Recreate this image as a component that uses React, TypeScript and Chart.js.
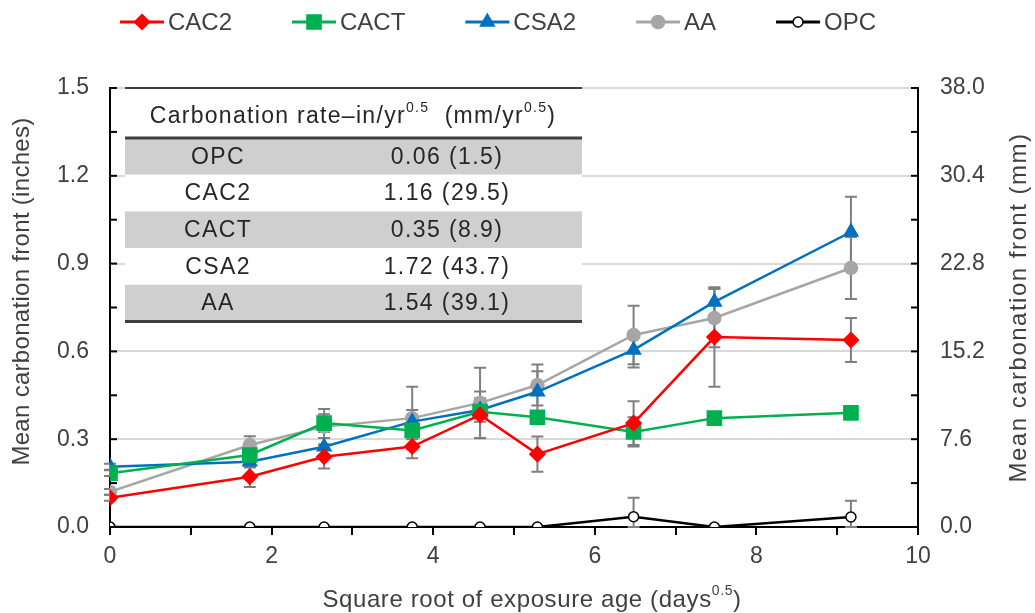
import React, { useEffect, useRef } from 'react';
import { Chart, registerables } from 'chart.js';
import { drawPoint } from 'chart.js/helpers';

Chart.register(...registerables);

// ---------- data ----------
const xValues = [0, 1.73, 2.65, 3.74, 4.58, 5.29, 6.48, 7.48, 9.17];

const cac2 = [0.1, 0.172, 0.24, 0.275, 0.383, 0.249, 0.355, 0.649, 0.639];
const cact = [0.184, 0.246, 0.355, 0.33, 0.394, 0.375, 0.325, 0.372, 0.39];
const csa2 = [0.206, 0.223, 0.274, 0.36, 0.4, 0.462, 0.605, 0.769, 1.008];
const aa = [0.12, 0.28, 0.343, 0.372, 0.424, 0.485, 0.656, 0.714, 0.885];
const opc = [0, 0, 0, 0, 0, 0, 0.035, 0, 0.034];

const cac2Err = [0.01, 0.035, 0.04, 0.04, 0.08, 0.06, 0.075, 0.17, 0.075];
const cactErr = [0.01, 0.02, 0.03, 0.03, 0.02, 0.02, 0.05, 0.02, 0.02];
const csa2Err = [0.01, 0.02, 0.03, 0.04, 0.04, 0.07, 0.06, 0.045, 0.12];
const aaErr = [0.01, 0.03, 0.06, 0.107, 0.12, 0.07, 0.1, 0.1, 0.106];
const opcErr = [0, 0, 0, 0, 0, 0, 0.065, 0, 0.056];

const leftMax = 1.5;
const leftStep = 0.3;
const rightMax = 38;
const rightStep = 7.6;

const tableMixes = ['OPC', 'CAC2', 'CACT', 'CSA2', 'AA'];
const tableRateIn = ['0.06', '1.16', '0.35', '1.72', '1.54'];
const tableRateMm = ['1.5', '29.5', '8.9', '43.7', '39.1'];

const FONT = "'Liberation Sans', Arial, sans-serif";
const TEXT = '#404040';

type Series = {
  label: string;
  values: number[];
  err: number[];
  color: string;
  style: string;
  radius: number;
  fill: string;
};

const seriesList: Series[] = [
  { label: 'CAC2', values: cac2, err: cac2Err, color: '#ff0000', style: 'rectRot', radius: 7.5, fill: '#ff0000' },
  { label: 'CACT', values: cact, err: cactErr, color: '#00b050', style: 'rect', radius: 10, fill: '#00b050' },
  { label: 'CSA2', values: csa2, err: csa2Err, color: '#0070c0', style: 'triangle', radius: 8, fill: '#0070c0' },
  { label: 'AA', values: aa, err: aaErr, color: '#a6a6a6', style: 'circle', radius: 6.5, fill: '#a6a6a6' },
  { label: 'OPC', values: opc, err: opcErr, color: '#000000', style: 'circle', radius: 5, fill: '#ffffff' },
];

const isMultiple = (v: number, step: number) => {
  const k = v / step;
  return Math.abs(k - Math.round(k)) < 1e-6;
};

const setSpacing = (ctx: any, px: number) => {
  try {
    ctx.letterSpacing = `${px}px`;
  } catch (e) {
    /* ignore */
  }
};

const decorPlugin = {
  id: 'decor',
  beforeDatasetsDraw(chart: any) {
    const ctx = chart.ctx as CanvasRenderingContext2D;
    const area = chart.chartArea;
    const xs = chart.scales.x;
    const ys = chart.scales.y;

    // ---- table ----
    const tl = area.left + 15;
    const tr = area.left + 472;
    const top = area.top;
    const headerBottom = top + 50;
    const rowH = 36.7;
    ctx.save();
    for (let i = 0; i < tableMixes.length; i++) {
      const y0 = headerBottom + i * rowH;
      ctx.fillStyle = i % 2 === 0 ? '#d0cfcf' : '#ffffff';
      ctx.fillRect(tl, y0, tr - tl, rowH);
    }
    ctx.fillStyle = '#ffffff';
    ctx.fillRect(tl, top + 1, tr - tl, 49);
    ctx.strokeStyle = '#404040';
    ctx.lineWidth = 2;
    ctx.beginPath();
    ctx.moveTo(tl, top);
    ctx.lineTo(tr, top);
    ctx.stroke();
    ctx.lineWidth = 3;
    ctx.beginPath();
    ctx.moveTo(tl, headerBottom);
    ctx.lineTo(tr, headerBottom);
    ctx.stroke();
    ctx.beginPath();
    const tb = headerBottom + rowH * tableMixes.length;
    ctx.moveTo(tl, tb);
    ctx.lineTo(tr, tb);
    ctx.stroke();

    // header text with superscripts
    setSpacing(ctx, 1.3);
    const main = `23px ${FONT}`;
    const sup = `14px ${FONT}`;
    const parts: [string, boolean][] = [
      ['Carbonation rate\u2013in/yr', false],
      ['0.5', true],
      ['  (mm/yr', false],
      ['0.5', true],
      [')', false],
    ];
    let total = 0;
    for (const [t, s] of parts) {
      ctx.font = s ? sup : main;
      total += ctx.measureText(t).width;
    }
    let hx = area.left + 243 - total / 2;
    const hy = top + 29;
    ctx.fillStyle = '#262626';
    ctx.textAlign = 'left';
    ctx.textBaseline = 'middle';
    for (const [t, s] of parts) {
      ctx.font = s ? sup : main;
      ctx.fillText(t, hx, s ? hy - 9 : hy);
      hx += ctx.measureText(t).width;
    }
    setSpacing(ctx, 1.4);
    ctx.font = `23px ${FONT}`;
    ctx.textAlign = 'center';
    for (let i = 0; i < tableMixes.length; i++) {
      const yc = headerBottom + i * rowH + rowH / 2 + 1;
      ctx.fillText(tableMixes[i], area.left + 108, yc);
      ctx.fillText(`${tableRateIn[i]} (${tableRateMm[i]})`, area.left + 337, yc);
    }
    setSpacing(ctx, 0);
    ctx.restore();

    // ---- error bars ----
    ctx.save();
    ctx.strokeStyle = '#7f7f7f';
    ctx.lineWidth = 2;
    for (const s of seriesList) {
      s.values.forEach((v, j) => {
        const e = s.err[j];
        if (!e) return;
        const px = xs.getPixelForValue(xValues[j]);
        const yTop = ys.getPixelForValue(v + e);
        const yBot = ys.getPixelForValue(Math.max(0, v - e));
        ctx.beginPath();
        ctx.moveTo(px, yTop);
        ctx.lineTo(px, yBot);
        ctx.moveTo(px - 6, yTop);
        ctx.lineTo(px + 6, yTop);
        ctx.moveTo(px - 6, yBot);
        ctx.lineTo(px + 6, yBot);
        ctx.stroke();
      });
    }
    ctx.restore();
  },
  afterDraw(chart: any) {
    const ctx = chart.ctx as CanvasRenderingContext2D;
    const area = chart.chartArea;
    const ys = chart.scales.y;
    const y2 = chart.scales.y2;

    // inward y ticks
    ctx.save();
    ctx.strokeStyle = '#000';
    ctx.lineWidth = 2;
    ys.ticks.forEach((t: any) => {
      const py = ys.getPixelForValue(t.value);
      ctx.beginPath();
      ctx.moveTo(area.left, py);
      ctx.lineTo(area.left + 7, py);
      ctx.stroke();
    });
    y2.ticks.forEach((t: any) => {
      const py = y2.getPixelForValue(t.value);
      ctx.beginPath();
      ctx.moveTo(area.right, py);
      ctx.lineTo(area.right - 7, py);
      ctx.stroke();
    });
    ctx.restore();

    // legend
    ctx.save();
    ctx.font = `24px ${FONT}`;
    ctx.textBaseline = 'middle';
    ctx.textAlign = 'left';
    let lx = 120;
    const ly = 22;
    for (const s of seriesList) {
      ctx.strokeStyle = s.color;
      ctx.lineWidth = 3;
      ctx.beginPath();
      ctx.moveTo(lx, ly);
      ctx.lineTo(lx + 44, ly);
      ctx.stroke();
      ctx.fillStyle = s.fill;
      ctx.strokeStyle = s.color;
      ctx.lineWidth = 1.5;
      drawPoint(ctx, { pointStyle: s.style as any, radius: s.radius, rotation: 0, borderWidth: 1.5 }, lx + 22, ly);
      ctx.fillStyle = TEXT;
      ctx.fillText(s.label, lx + 48, ly + 1);
      lx += 48 + ctx.measureText(s.label).width + 60;
    }
    ctx.restore();

    // axis titles
    ctx.save();
    ctx.fillStyle = TEXT;
    ctx.textBaseline = 'middle';
    ctx.textAlign = 'center';
    const cy = (area.top + area.bottom) / 2;
    ctx.font = `24px ${FONT}`;
    setSpacing(ctx, 0.3);
    ctx.save();
    ctx.translate(22, cy - 16);
    ctx.rotate(-Math.PI / 2);
    ctx.fillText('Mean carbonation front (inches)', 0, 0);
    ctx.restore();
    setSpacing(ctx, 1.5);
    ctx.save();
    ctx.translate(1019, cy);
    ctx.rotate(-Math.PI / 2);
    ctx.fillText('Mean carbonation front (mm)', 0, 0);
    ctx.restore();

    // x title with superscript
    setSpacing(ctx, 0.6);
    const xt1 = 'Square root of exposure age (days';
    const xt2 = '0.5';
    const xt3 = ')';
    ctx.font = `24px ${FONT}`;
    const w1 = ctx.measureText(xt1).width;
    const w3 = ctx.measureText(xt3).width;
    ctx.font = `14px ${FONT}`;
    const w2 = ctx.measureText(xt2).width;
    let tx = (area.left + area.right) / 2 - (w1 + w2 + w3) / 2 + 18;
    const ty = 600;
    ctx.textAlign = 'left';
    ctx.font = `24px ${FONT}`;
    ctx.fillText(xt1, tx, ty);
    tx += w1;
    ctx.font = `14px ${FONT}`;
    ctx.fillText(xt2, tx, ty - 9);
    tx += w2;
    ctx.font = `24px ${FONT}`;
    ctx.fillText(xt3, tx, ty);
    setSpacing(ctx, 0);
    ctx.restore();
  },
};

export default function App() {
  const canvasRef = useRef<HTMLCanvasElement | null>(null);

  useEffect(() => {
    const canvas = canvasRef.current;
    if (!canvas) return;
    const tickFont = { family: FONT, size: 23 };
    const chart = new Chart(canvas, {
      type: 'line',
      data: {
        datasets: seriesList.map((s) => ({
          label: s.label,
          data: xValues.map((x, i) => ({ x, y: s.values[i] })),
          borderColor: s.color,
          backgroundColor: s.fill,
          pointBackgroundColor: s.fill,
          pointBorderColor: s.color,
          pointStyle: s.style as any,
          pointRadius: s.radius,
          pointBorderWidth: 1.5,
          borderWidth: 2.5,
          tension: 0,
          fill: false,
          yAxisID: 'y',
        })),
      },
      options: {
        responsive: false,
        animation: false,
        layout: { padding: { top: 88, left: 0, right: 0, bottom: 0 } },
        plugins: {
          legend: { display: false },
          tooltip: { enabled: false },
        },
        scales: {
          x: {
            type: 'linear',
            min: 0,
            max: 10,
            ticks: {
              stepSize: 1,
              autoSkip: false,
              maxRotation: 0,
              padding: 8,
              color: TEXT,
              font: tickFont,
              callback: (v: any) => (Number(v) % 2 === 0 ? String(v) : ''),
            },
            grid: {
              drawOnChartArea: false,
              drawTicks: true,
              tickLength: 8,
              color: '#000',
              lineWidth: 2,
            },
            border: { color: '#000', width: 2 },
            afterFit: (s: any) => {
              s.height = 86;
            },
          },
          y: {
            position: 'left',
            min: 0,
            max: leftMax,
            ticks: {
              stepSize: leftStep / 2,
              autoSkip: false,
              padding: 21,
              color: TEXT,
              font: tickFont,
              callback: (v: any) => (isMultiple(Number(v), leftStep) ? Number(v).toFixed(1) : ''),
            },
            grid: {
              drawTicks: false,
              lineWidth: 2,
              color: (c: any) => {
                const v = c.tick ? c.tick.value : null;
                if (v == null || v < 0.01) return 'rgba(0,0,0,0)';
                return isMultiple(v, leftStep) ? '#d9d9d9' : 'rgba(0,0,0,0)';
              },
            },
            border: { color: '#000', width: 2 },
            afterFit: (s: any) => {
              s.width = 110;
            },
          },
          y2: {
            position: 'right',
            min: 0,
            max: rightMax,
            ticks: {
              stepSize: rightStep / 2,
              autoSkip: false,
              padding: 22,
              color: TEXT,
              font: tickFont,
              callback: (v: any) => (isMultiple(Number(v), rightStep) ? Number(v).toFixed(1) : ''),
            },
            grid: { drawOnChartArea: false, drawTicks: false },
            border: { color: '#000', width: 2 },
            afterFit: (s: any) => {
              s.width = 117;
            },
          },
        },
      },
      plugins: [decorPlugin],
    });
    return () => chart.destroy();
  }, []);

  return (
    <div style={{ position: 'absolute', left: 0, top: 0, width: 1035, height: 613, background: '#fff' }}>
      <canvas ref={canvasRef} width={1035} height={613} style={{ display: 'block' }} />
    </div>
  );
}
